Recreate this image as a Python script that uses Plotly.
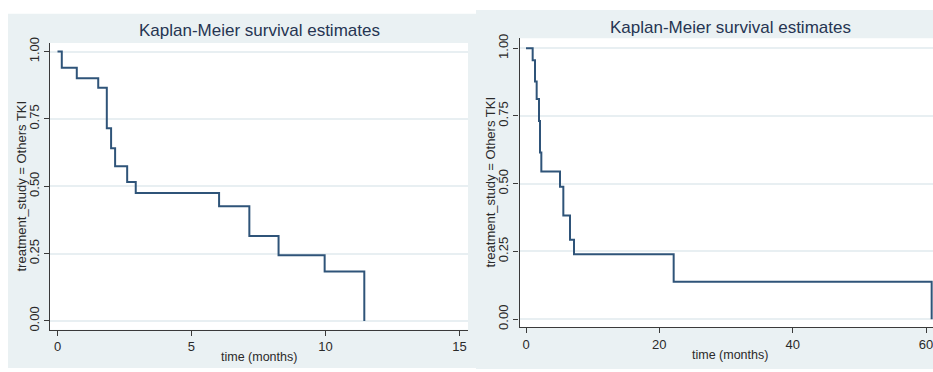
import plotly.graph_objects as go

W, H = 933, 372

# ---- data ----
left_time = [0, 0.16, 0.72, 1.52, 1.84, 2.0, 2.15, 2.6, 2.92, 6.03, 7.16, 8.25, 9.97, 11.45]
left_surv = [1.0, 0.94, 0.901, 0.866, 0.715, 0.641, 0.574, 0.516, 0.475, 0.426, 0.315, 0.244, 0.183, 0.0]

right_time = [0, 1.0, 1.35, 1.6, 1.95, 2.1, 2.3, 5.1, 5.6, 6.6, 7.2, 22.15, 60.85]
right_surv = [1.0, 0.956, 0.877, 0.813, 0.731, 0.615, 0.545, 0.489, 0.383, 0.293, 0.24, 0.138, 0.0]

left_xticks = [0, 5, 10, 15]
right_xticks = [0, 20, 40, 60]
y_ticks = [0, 0.25, 0.5, 0.75, 1.0]
y_ticktext = ["0.00", "0.25", "0.50", "0.75", "1.00"]

title_text = "Kaplan-Meier survival estimates"
xtitle_text = "time (months)"
ytitle_text = "treatment_study = Others TKI"

# ---- style ----
FONT = "Liberation Sans, Arial, sans-serif"
BG = "#eaf1f3"
GRID = "#e8eff2"
AXIS = "#3a3a3a"
LINE = "#2f5479"
TXT = "#2a2a2a"
TITLE = "#263552"


def px(x):
    return x / W


def py(y):
    return 1 - y / H


fig = go.Figure()
fig.add_trace(go.Scatter(x=left_time, y=left_surv, mode="lines", line_shape="hv",
                         line=dict(color=LINE, width=2), xaxis="x", yaxis="y",
                         showlegend=False, hoverinfo="skip"))
fig.add_trace(go.Scatter(x=right_time, y=right_surv, mode="lines", line_shape="hv",
                         line=dict(color=LINE, width=2), xaxis="x2", yaxis="y2",
                         showlegend=False, hoverinfo="skip"))

common_x = dict(showgrid=False, zeroline=False, showline=True, linecolor=AXIS, linewidth=1.2,
                ticks="outside", ticklen=5, tickcolor=AXIS, tickwidth=1,
                ticklabeloverflow="allow",
                tickfont=dict(family=FONT, size=13, color=TXT), mirror=False)
common_y = dict(showgrid=True, gridcolor=GRID, gridwidth=1.5, zeroline=False, showline=True,
                linecolor=AXIS, linewidth=1.2, ticks="outside", ticklen=5, tickcolor=AXIS,
                tickwidth=1, tickangle=-90, tickvals=y_ticks, ticktext=y_ticktext,
                tickfont=dict(family=FONT, size=13, color=TXT), mirror=False)

# plot areas (pixels)
L = dict(x0=50, x1=468, y0=38, y1=331.7)
R = dict(x0=519.5, x1=933, y0=33, y1=329)

fig.update_layout(
    width=W, height=H,
    margin=dict(l=0, r=0, t=0, b=0),
    paper_bgcolor="white", plot_bgcolor="rgba(0,0,0,0)",
    xaxis=dict(common_x, domain=[px(L["x0"]), px(L["x1"])], range=[-0.28, 15.32],
               tickvals=left_xticks, anchor="y"),
    yaxis=dict(common_y, domain=[py(L["y1"]), py(L["y0"])], range=[-0.0326, 1.0315],
               anchor="x"),
    xaxis2=dict(common_x, domain=[px(R["x0"]), px(R["x1"])], range=[-0.975, 61.05],
                tickvals=right_xticks, anchor="y2"),
    yaxis2=dict(common_y, domain=[py(R["y1"]), py(R["y0"])], range=[-0.029, 1.037],
                anchor="x2"),
    shapes=[
        dict(type="rect", xref="paper", yref="paper", layer="below",
             x0=px(8), x1=px(476), y0=py(371), y1=py(8), fillcolor=BG, line=dict(width=0)),
        dict(type="rect", xref="paper", yref="paper", layer="below",
             x0=px(476), x1=1, y0=0, y1=py(4), fillcolor=BG, line=dict(width=0)),
        dict(type="rect", xref="paper", yref="paper", layer="below",
             x0=px(L["x0"]), x1=px(L["x1"]), y0=py(L["y1"]), y1=py(L["y0"]),
             fillcolor="white", line=dict(width=0)),
        dict(type="rect", xref="paper", yref="paper", layer="below",
             x0=px(R["x0"]), x1=1, y0=py(R["y1"]), y1=py(R["y0"]),
             fillcolor="white", line=dict(width=0)),
    ],
    annotations=[
        dict(text=title_text, x=px(259), y=py(25), xref="paper", yref="paper",
             showarrow=False, xanchor="center", yanchor="middle",
             font=dict(family=FONT, size=17, color=TITLE)),
        dict(text=title_text, x=px(730), y=py(22), xref="paper", yref="paper",
             showarrow=False, xanchor="center", yanchor="middle",
             font=dict(family=FONT, size=17, color=TITLE)),
        dict(text=xtitle_text, x=px(258.5), y=py(360), xref="paper", yref="paper",
             showarrow=False, xanchor="center", yanchor="middle",
             font=dict(family=FONT, size=12.5, color=TXT)),
        dict(text=xtitle_text, x=px(730), y=py(358), xref="paper", yref="paper",
             showarrow=False, xanchor="center", yanchor="middle",
             font=dict(family=FONT, size=12.5, color=TXT)),
        dict(text=ytitle_text, x=px(22), y=py(185), xref="paper", yref="paper",
             showarrow=False, xanchor="center", yanchor="middle", textangle=-90,
             font=dict(family=FONT, size=13, color=TXT)),
        dict(text=ytitle_text, x=px(491), y=py(181), xref="paper", yref="paper",
             showarrow=False, xanchor="center", yanchor="middle", textangle=-90,
             font=dict(family=FONT, size=13, color=TXT)),
    ],
)

fig.write_html("out.html",
               config={"displayModeBar": False},
               post_script="document.body.style.margin='0';document.body.style.overflow='hidden';")
